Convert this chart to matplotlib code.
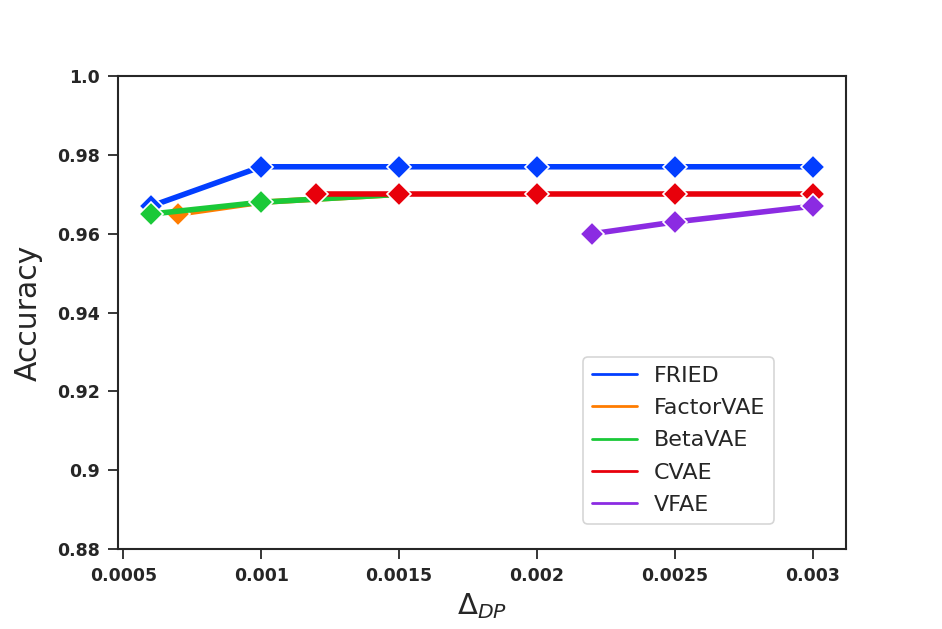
import matplotlib
matplotlib.use("Agg")
import matplotlib.pyplot as plt
from matplotlib.lines import Line2D
import seaborn as sns

# ---- data ----
methods = ["FRIED", "FactorVAE", "BetaVAE", "CVAE", "VFAE"]
fried_x = [0.0006, 0.001, 0.0015, 0.002, 0.0025, 0.003]
fried_y = [0.967, 0.977, 0.977, 0.977, 0.977, 0.977]
factor_x = [0.0007, 0.001, 0.0015]
factor_y = [0.965, 0.968, 0.970]
beta_x = [0.0006, 0.001, 0.0015]
beta_y = [0.965, 0.968, 0.970]
cvae_x = [0.0012, 0.0015, 0.002, 0.0025, 0.003]
cvae_y = [0.970, 0.970, 0.970, 0.970, 0.970]
vfae_x = [0.0022, 0.0025, 0.003]
vfae_y = [0.960, 0.963, 0.967]

xticks = [0.0005, 0.001, 0.0015, 0.002, 0.0025, 0.003]
xticklabels = ["0.0005", "0.001", "0.0015", "0.002", "0.0025", "0.003"]
yticks = [0.88, 0.90, 0.92, 0.94, 0.96, 0.98, 1.0]
yticklabels = ["0.88", "0.9", "0.92", "0.94", "0.96", "0.98", "1.0"]

sns.set_style("ticks")
colors = sns.color_palette("bright")[:5]

fig = plt.figure(figsize=(9.42, 6.29), dpi=100)
ax = fig.add_axes([0.125, 0.127, 0.773, 0.752])

series = [(fried_x, fried_y), (factor_x, factor_y), (beta_x, beta_y),
          (cvae_x, cvae_y), (vfae_x, vfae_y)]
for i, (xs, ys) in enumerate(series):
    ax.plot(xs, ys, color=colors[i], lw=4, marker="D", markersize=12,
            markeredgecolor="white", markeredgewidth=1.2, zorder=2 + i)

ax.set_ylim(0.88, 1.0)
ax.set_xticks(xticks)
ax.set_xticklabels(xticklabels, fontweight="bold", fontsize=12.5)
ax.set_yticks(yticks)
ax.set_yticklabels(yticklabels, fontweight="bold", fontsize=12.5)
ax.tick_params(length=7, width=1.3, pad=6, colors="#262626")
for sp in ax.spines.values():
    sp.set_linewidth(1.5)
    sp.set_color("#262626")

ax.set_ylabel("Accuracy", fontsize=21.5, color="#262626", labelpad=10)
ax.set_xlabel(r"$\Delta_{DP}$", fontsize=21, color="#262626", labelpad=4)

handles = [Line2D([0], [0], color=colors[i], lw=2) for i in range(5)]
leg = ax.legend(handles, methods, loc="lower right", bbox_to_anchor=(0.916, 0.03),
                fontsize=16, handlelength=2.0, handletextpad=0.75,
                labelspacing=0.55, borderpad=0.4, frameon=True)
leg.get_frame().set_linewidth(1.2)
for t in leg.get_texts():
    t.set_color("#262626")

fig.savefig("out.png", dpi=100)
